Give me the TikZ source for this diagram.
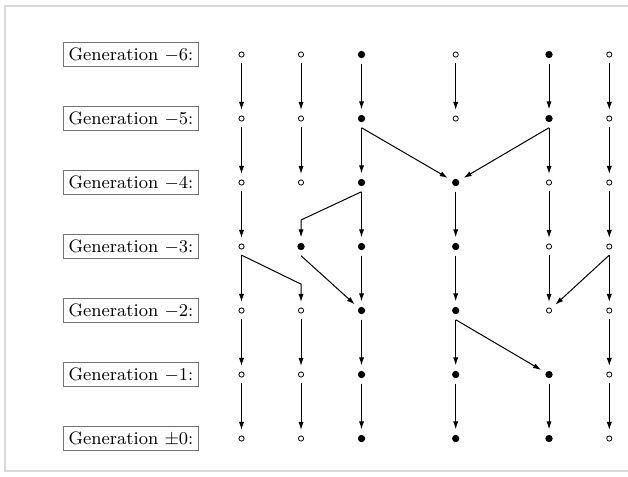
\documentclass[tikz,border=0pt]{standalone}
\usetikzlibrary{arrows.meta}
\usetikzlibrary{calc}

\begin{document}
\begin{tikzpicture}
	\tikzset{gen/.style={
		rectangle, draw=black!55, thin, inner sep=2.5pt, font=\small
	}}
	\tikzset{cell/.style={
		circle, draw=black, line width=0.4pt, inner sep=0pt, outer sep=3pt
	}}
	\tikzset{live/.style={
		cell, fill=black, minimum size=3.2pt
	}}
	\tikzset{dead/.style={
		cell, fill=white, minimum size=2.6pt
	}}
	\tikzset{conn/.style={
		-{Latex[length=4pt, width=2.6pt]}, line width=0.5pt
	}}

	% Frame
	\useasboundingbox (0,0) rectangle (11.036,-8.365);
	\draw[gray!30, line width=1pt] (0.088,-0.105) rectangle (12.5,-8.28);

	% Generations
	\foreach \lbl [count=\r from 0] in {$-6$, $-5$, $-4$, $-3$, $-2$, $-1$, $\pm0$}
		\node (G\r) [gen] at (2.302, -0.958-1.1247*\r) {Generation \lbl:};

	% Cells (one list per generation)
	\foreach \cells [count=\r from 0] in {
		{dead,dead,live,dead,live,dead}, % -6
		{dead,dead,live,dead,live,dead}, % -5
		{dead,dead,live,live,dead,dead}, % -4
		{dead,live,live,live,dead,dead}, % -3
		{dead,dead,live,live,dead,dead}, % -2
		{dead,dead,live,live,live,dead}, % -1
		{dead,dead,live,live,live,dead}} % +-0
		\foreach \st [count=\c from 0] in \cells {
			\pgfmathsetmacro{\x}{{4.244,5.290,6.353,8.008,9.648,10.707}[\c]}
			\node (n\r\c) [\st] at (\x, -0.958-1.1247*\r) {};
		}

	% Straight descent
	\foreach \r/\c [evaluate=\r as \s using int(\r+1)] in {
		0/0, 0/1, 0/2, 0/3, 0/4, 0/5,
		1/0, 1/1, 1/2, 1/4, 1/5,
		2/0, 2/2, 2/3, 2/4, 2/5,
		3/0, 3/2, 3/3, 3/4, 3/5,
		4/0, 4/1, 4/2, 4/3, 4/5,
		5/0, 5/1, 5/2, 5/3, 5/4, 5/5}
		\draw[conn] (n\r\c) -- (n\s\c);

	% Sideways descent
	\draw[conn] (n12.south) -- (n23);
	\draw[conn] (n14.south) -- (n23);
	\draw[conn] (n31.south) -- (n42);
	\draw[conn] (n35.south) -- (n44);
	\draw[conn] (n43.south) -- (n54);

	% Bent descent
	\coordinate (bend1) at ($(n22.south)!0.62!(n31.north)$);
	\coordinate (bend2) at ($(n30.south)!0.62!(n41.north)$);
	\draw[conn] (n22.south) -- (n31.north |- bend1) -- (n31);
	\draw[conn] (n30.south) -- (n41.north |- bend2) -- (n41);
\end{tikzpicture}
\end{document}
